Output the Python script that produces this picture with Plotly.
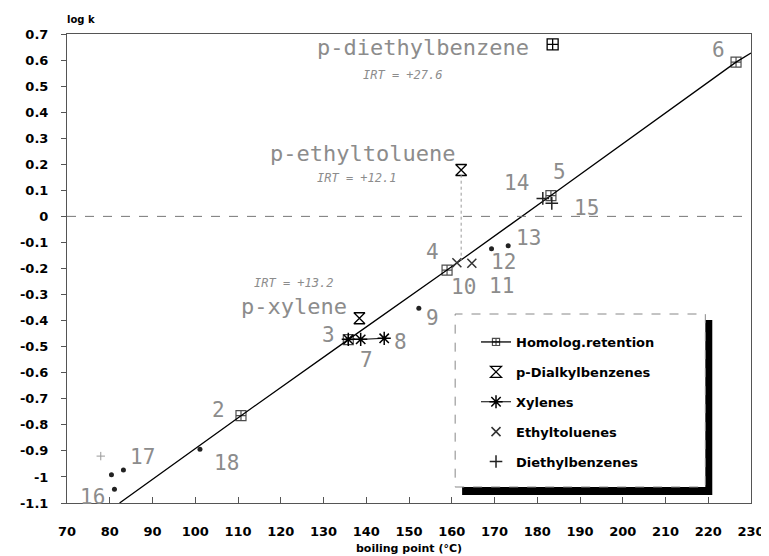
import plotly.graph_objects as go

# ---------------- data ----------------
hom_x = [82.3, 110.7, 135.8, 158.9, 183.2, 226.5, 230.0]
hom_y = [-1.100, -0.765, -0.473, -0.206, 0.080, 0.592, 0.627]

pdial_x = [138.4, 162.2, 183.6]
pdial_y = [-0.391, 0.178, 0.660]

xyl_x = [135.8, 138.7, 144.2]
xyl_y = [-0.472, -0.472, -0.468]

et_x = [161.2, 164.7]
et_y = [-0.178, -0.180]

deb_x = [181.3, 183.4]
deb_y = [0.069, 0.050]

oth_x = [152.3, 169.3, 173.2, 80.4, 81.1, 83.2, 101.1]
oth_y = [-0.353, -0.124, -0.113, -0.992, -1.047, -0.973, -0.894]

faint_x = [77.9]
faint_y = [-0.92]

drop_x = [162.2, 162.2]
drop_y = [0.160, -0.170]

num_labels = ["2", "3", "4", "5", "6", "7", "8", "9", "10", "11", "12", "13", "14", "15", "16", "17", "18"]
num_x = [105.5, 131.1, 155.5, 185.2, 222.3, 140.1, 148.0, 155.5, 162.7, 171.7, 172.2, 178.0, 175.2, 191.5, 76.0, 87.6, 107.2]
num_y = [-0.743, -0.455, -0.137, 0.170, 0.639, -0.551, -0.482, -0.390, -0.271, -0.267, -0.175, -0.083, 0.128, 0.032, -1.077, -0.923, -0.946]

name_labels = ["p-diethylbenzene", "p-ethyltoluene", "p-xylene"]
name_x = [153.3, 139.2, 123.2]
name_y = [0.650, 0.243, -0.344]

irt_labels = ["IRT = +27.6", "IRT = +12.1", "IRT = +13.2"]
irt_x = [148.5, 137.8, 123.0]
irt_y = [0.543, 0.147, -0.255]

x_ticks = list(range(70, 231, 10))
y_ticks = [0.7, 0.6, 0.5, 0.4, 0.3, 0.2, 0.1, 0, -0.1, -0.2, -0.3, -0.4, -0.5, -0.6, -0.7, -0.8, -0.9, -1, -1.1]
y_tick_text = ["0.7", "0.6", "0.5", "0.4", "0.3", "0.2", "0.1", "0", "-0.1", "-0.2", "-0.3", "-0.4", "-0.5",
               "-0.6", "-0.7", "-0.8", "-0.9", "-1", "-1.1"]

# ---------------- figure ----------------
fig = go.Figure()

fig.add_trace(go.Scatter(
    x=hom_x, y=hom_y, mode="lines+markers", name="Homolog.retention",
    legendgroup="a",
    line=dict(color="black", width=1.3),
    marker=dict(symbol="square-cross-open", size=[0, 10, 10, 10, 10, 10, 0], color="black",
                line=dict(width=1.2, color="black")),
))
fig.add_trace(go.Scatter(
    x=pdial_x, y=pdial_y, mode="markers", name="p-Dialkylbenzenes", legendgroup="b",
    marker=dict(symbol=["hourglass-open", "hourglass-open", "square-cross-open"], size=11,
                color="black", line=dict(width=1.3, color="black")),
))
fig.add_trace(go.Scatter(
    x=xyl_x, y=xyl_y, mode="lines+markers", name="Xylenes", legendgroup="c",
    line=dict(color="black", width=1),
    marker=dict(symbol="asterisk-open", size=11, color="black", line=dict(width=1.5, color="black")),
))
fig.add_trace(go.Scatter(
    x=et_x, y=et_y, mode="markers", name="Ethyltoluenes", legendgroup="d",
    marker=dict(symbol="x-thin-open", size=9, color="#333", line=dict(width=1.5, color="#333")),
))
fig.add_trace(go.Scatter(
    x=deb_x, y=deb_y, mode="markers", name="Diethylbenzenes", legendgroup="e",
    marker=dict(symbol="cross-thin-open", size=9, color="#222", line=dict(width=1.5, color="#222")),
))
fig.add_trace(go.Scatter(
    x=oth_x, y=oth_y, mode="markers", showlegend=False,
    marker=dict(symbol="circle", size=5, color="#222"),
))
fig.add_trace(go.Scatter(
    x=faint_x, y=faint_y, mode="markers", showlegend=False,
    marker=dict(symbol="cross-thin-open", size=6, color="#999", line=dict(width=1, color="#999")),
))
fig.add_trace(go.Scatter(
    x=drop_x, y=drop_y, mode="lines", showlegend=False,
    line=dict(color="#999", width=1, dash="dot"),
))

ann_font = dict(family="DejaVu Sans Mono", color="#8c8c8c")
for t, x, y in zip(num_labels, num_x, num_y):
    fig.add_annotation(x=x, y=y, text=t, showarrow=False, font=dict(size=21, **ann_font))
for t, x, y in zip(name_labels, name_x, name_y):
    fig.add_annotation(x=x, y=y, text=t, showarrow=False, font=dict(size=22, **ann_font))
for t, x, y in zip(irt_labels, irt_x, irt_y):
    fig.add_annotation(x=x, y=y, text=t, showarrow=False,
                       font=dict(size=12, family="DejaVu Sans Mono", color="#8c8c8c", style="italic"))

# axis labels
fig.add_annotation(xref="paper", yref="paper", x=(60 - 62) / 689, y=(503 - 20) / 469, text="log k",
                   showarrow=False, xanchor="left", yanchor="middle",
                   font=dict(family="DejaVu Sans", size=10, color="black", weight="bold"))
fig.add_annotation(xref="paper", yref="paper", x=0.5, y=(503 - 548) / 469, text="boiling point (°C)",
                   showarrow=False, xanchor="center", yanchor="middle",
                   font=dict(family="DejaVu Sans", size=11, color="black", weight="bold"))

# zero line
fig.add_shape(type="line", xref="paper", yref="y", x0=0, x1=1, y0=0, y1=0,
              line=dict(color="#777", width=1, dash="dash"))
# legend frame with shadow
fig.add_shape(type="rect", xref="paper", yref="paper",
              x0=(460 - 62) / 689, x1=(712 - 62) / 689, y0=(503 - 495) / 469, y1=(503 - 320) / 469,
              fillcolor="black", line=dict(width=0), layer="above")
fig.add_shape(type="rect", xref="paper", yref="paper",
              x0=(453 - 62) / 689, x1=(705 - 62) / 689, y0=(503 - 487) / 469, y1=(503 - 314) / 469,
              fillcolor="white", line=dict(width=1, color="#888", dash="dash"), layer="above")

# the page has an 8px body margin, so margins are reduced by 8px on left/top
fig.update_layout(
    width=769, height=556,
    margin=dict(l=54, r=26, t=26, b=61),
    paper_bgcolor="white", plot_bgcolor="white",
    showlegend=True,
    legend=dict(x=(474 - 62) / 689, y=(503 - 327) / 469, xanchor="left", yanchor="top",
                bgcolor="rgba(0,0,0,0)", borderwidth=0, tracegroupgap=10,
                font=dict(family="DejaVu Sans", size=13, color="black", weight="bold")),
    xaxis=dict(range=[70, 230], tickvals=x_ticks, ticks="inside", ticklen=6, tickcolor="#555",
               showline=True, mirror=True, linecolor="#555", linewidth=1, showgrid=False, zeroline=False,
               ticklabelstandoff=16,
               tickfont=dict(family="DejaVu Sans", size=13, color="black", weight="bold")),
    yaxis=dict(range=[-1.1, 0.7], tickvals=y_ticks, ticktext=y_tick_text, ticks="outside", ticklen=5,
               tickcolor="#555", showline=True, mirror=True, linecolor="#555", linewidth=1,
               showgrid=False, zeroline=False, ticklabelstandoff=10,
               tickfont=dict(family="DejaVu Sans", size=13, color="black", weight="bold")),
)

fig.write_html("out.html")
